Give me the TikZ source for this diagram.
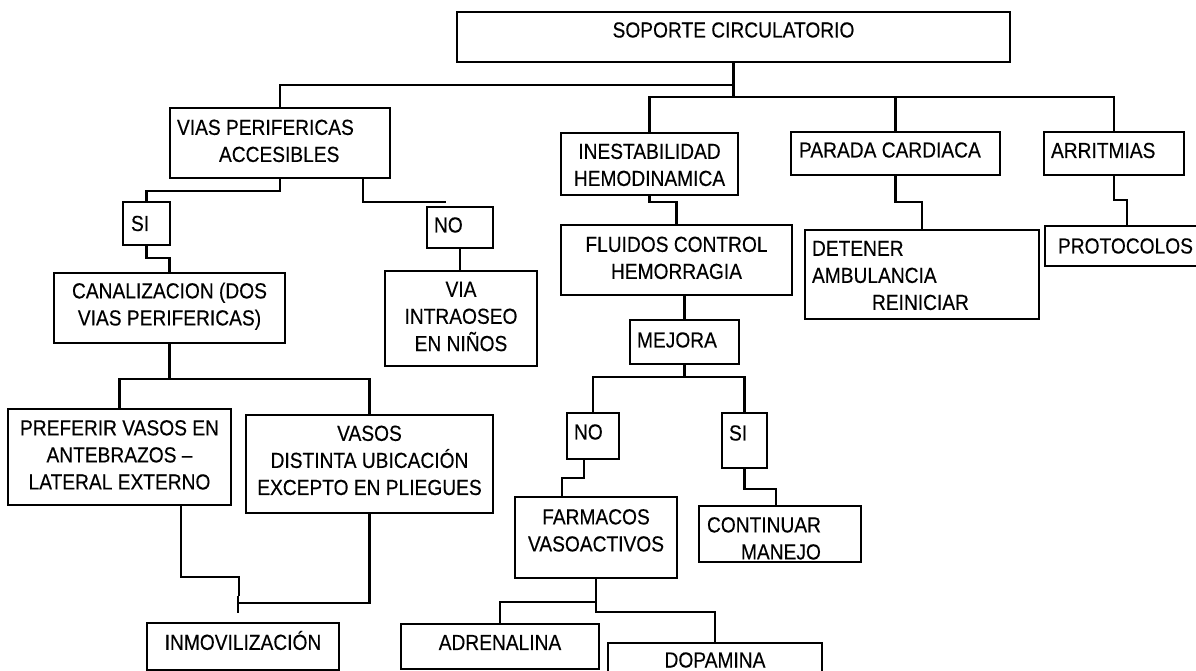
\documentclass[tikz,border=0pt]{standalone}
\usepackage{fontspec}
\setmainfont{Liberation Sans}[FakeStretch=0.88,FakeBold=0.3]
\usetikzlibrary{calc,positioning}
\newcommand{\boxfont}{\fontsize{12.4pt}{15.4pt}\selectfont}
\newcommand{\boxlines}[2][c]{\begin{tabular}{@{}#1@{}}#2\end{tabular}}
\newcommand{\lift}[2]{\raisebox{#1}[\height][\depth]{#2}}
\newcommand{\lalign}[2]{\makebox[#1][l]{#2}}

\begin{document}
\begin{tikzpicture}[
  x=0.02cm, y=-0.02cm,
  every node/.style={font=\boxfont},
  cbox/.style={draw,line width=1.5pt,inner sep=0pt,outer sep=0pt},
  link/.style={line width=1.5pt},
]
  \useasboundingbox (0,0) rectangle (1196,671);
  \clip (0,0) rectangle (1196,671);

  % Root
  \node[cbox,minimum width=11.06cm,minimum height=1cm] (soporte) at (733.5,37)
    {\lift{0.14cm}{SOPORTE CIRCULATORIO}};

  % Left branch: vias perifericas
  \node[cbox,minimum width=4.4cm,minimum height=1.4cm] (vias) at (280,143)
    {\lalign{4.12cm}{\boxlines[l]{VIAS PERIFERICAS\\\hspace*{0.84cm}ACCESIBLES}}};
  \node[cbox,minimum width=0.94cm,minimum height=0.86cm] (si1) at (146.5,223.5)
    {\lalign{0.62cm}{SI}};
  \node[cbox,minimum width=1.32cm,minimum height=0.82cm] (no1) at (460,227.5)
    {\lalign{1.04cm}{\lift{0.05cm}{NO}}};
  \node[cbox,minimum width=4.62cm,minimum height=1.4cm] (canal) at (169.5,308)
    {\lift{0.03cm}{\boxlines{CANALIZACION (DOS\\VIAS PERIFERICAS)}}};
  \node[cbox,minimum width=3.04cm,minimum height=1.9cm] (via) at (461,318.5)
    {\boxlines{VIA\\INTRAOSEO\\EN NIÑOS}};
  \node[cbox,minimum width=4.46cm,minimum height=1.92cm] (preferir) at (119.5,457)
    {\boxlines{PREFERIR VASOS EN\\ANTEBRAZOS –\\LATERAL EXTERNO}};
  \node[cbox,minimum width=4.94cm,minimum height=1.96cm] (vasos) at (369.5,464)
    {\lift{0.03cm}{\boxlines{VASOS\\DISTINTA UBICACIÓN\\EXCEPTO EN PLIEGUES}}};
  \node[cbox,minimum width=3.84cm,minimum height=0.94cm] (inmov) at (243,646.5)
    {\lift{0.12cm}{INMOVILIZACIÓN}};

  % Middle branch: inestabilidad
  \node[cbox,minimum width=3.54cm,minimum height=1.24cm] (inest) at (649.5,164)
    {\lift{-0.06cm}{\boxlines{INESTABILIDAD\\HEMODINAMICA}}};
  \node[cbox,minimum width=4.62cm,minimum height=1.4cm] (fluidos) at (676.5,260)
    {\boxlines{FLUIDOS CONTROL\\HEMORRAGIA}};
  \node[cbox,minimum width=2.18cm,minimum height=0.88cm] (mejora) at (684.5,342)
    {\lalign{1.9cm}{\lift{0.04cm}{MEJORA}}};
  \node[cbox,minimum width=1.04cm,minimum height=0.92cm] (no2) at (593,436)
    {\lalign{0.76cm}{\lift{0.08cm}{NO}}};
  \node[cbox,minimum width=0.9cm,minimum height=1.1cm] (si2) at (744.5,440.5)
    {\lalign{0.62cm}{\lift{0.15cm}{SI}}};
  \node[cbox,minimum width=3.24cm,minimum height=1.62cm] (farmacos) at (596,537.5)
    {\lift{0.1cm}{\boxlines{FARMACOS\\VASOACTIVOS}}};
  \node[cbox,minimum width=3.24cm,minimum height=1.12cm] (continuar) at (780,534)
    {\lalign{2.92cm}{\lift{-0.13cm}{\boxlines[l]{CONTINUAR\\\hspace*{0.68cm}MANEJO}}}};
  \node[cbox,minimum width=3.96cm,minimum height=0.9cm] (adrenalina) at (500,646.5)
    {\lift{0.08cm}{ADRENALINA}};
  \node[cbox,minimum width=4.28cm,minimum height=0.68cm] (dopamina) at (715,660)
    {DOPAMINA};

  % Right branches
  \node[cbox,minimum width=4.18cm,minimum height=0.86cm] (parada) at (895.5,153.5)
    {\lalign{3.86cm}{\lift{0.07cm}{PARADA CARDIACA}}};
  \node[cbox,minimum width=4.68cm,minimum height=1.78cm] (detener) at (922,274.5)
    {\lalign{4.4cm}{\lift{-0.06cm}{\boxlines[l]{DETENER\\AMBULANCIA\\\hspace*{1.2cm}REINICIAR}}}};
  \node[cbox,minimum width=2.8cm,minimum height=0.86cm] (arrit) at (1114,153.5)
    {\lalign{2.52cm}{\lift{0.06cm}{ARRITMIAS}}};
  \node[cbox,minimum width=3.4cm,minimum height=0.8cm] (protocolos) at (1130,246)
    {\lalign{2.88cm}{PROTOCOLOS}};

  % Connectors from the root
  \coordinate (hubA) at ($(soporte.south)+(0,23)$);
  \coordinate (hubB) at ($(soporte.south)+(0,35)$);
  \draw[link] (soporte.south) -- (hubB);
  \draw[link] (hubA) -| (vias.north);
  \draw[link] (inest.north) |- (hubB) -| (arrit.north);
  \draw[link] (parada.north) -- (parada.north |- hubB);

  % Left branch
  \draw[link] (vias.south) -- ++(0,13) -| (si1.north);
  \draw[link] (si1.south) -- ++(0,13) -| (canal.north);
  \coordinate (noend) at ($(no1.north)+(-14,-5)$);
  \draw[link] ($(vias.south east)+(-27,0)$) |- (noend);
  \draw[link] (no1.south) -- (no1.south |- via.north);
  \draw[link] (canal.south) -- ++(0,36) coordinate (cjoin);
  \draw[link] (preferir.north) |- (cjoin) -| (vasos.north);
  \draw[link] ($(preferir.south east)+(-50,0)$) -- ++(0,72) -- ++(58,0) -- ++(0,19);
  \draw[link] (vasos.south) |- ($(inmov.north)+(-5,-20)$);
  \draw[link] ($(inmov.north)+(-5,-27)$) -- ($(inmov.north)+(-5,-10)$);

  % Middle branch
  \draw[link] (inest.south) -- ++(0,7) -| (fluidos.north);
  \draw[link] (fluidos.south -| mejora.north) -- (mejora.north);
  \draw[link] (mejora.south) -- ++(0,13) coordinate (mjoin);
  \draw[link] (no2.north) |- (mjoin) -| (si2.north);
  \draw[link] ($(no2.south)+(-9,0)$) -- ++(0,19) -| ($(farmacos.north west)+(47,0)$);
  \draw[link] (si2.south) -- ++(0,21) -| ($(continuar.north west)+(77,0)$);
  \draw[link] (adrenalina.north) |- ($(farmacos.south)+(0,24)$);
  \draw[link] (farmacos.south) -- ++(0,34) -| (dopamina.north);

  % Right branches
  \draw[link] (parada.south) -- ++(0,27) -| ($(detener.north west)+(117,0)$);
  \draw[link] (arrit.south) -- ++(0,25) -| ($(protocolos.north west)+(82,0)$);
\end{tikzpicture}
\end{document}
